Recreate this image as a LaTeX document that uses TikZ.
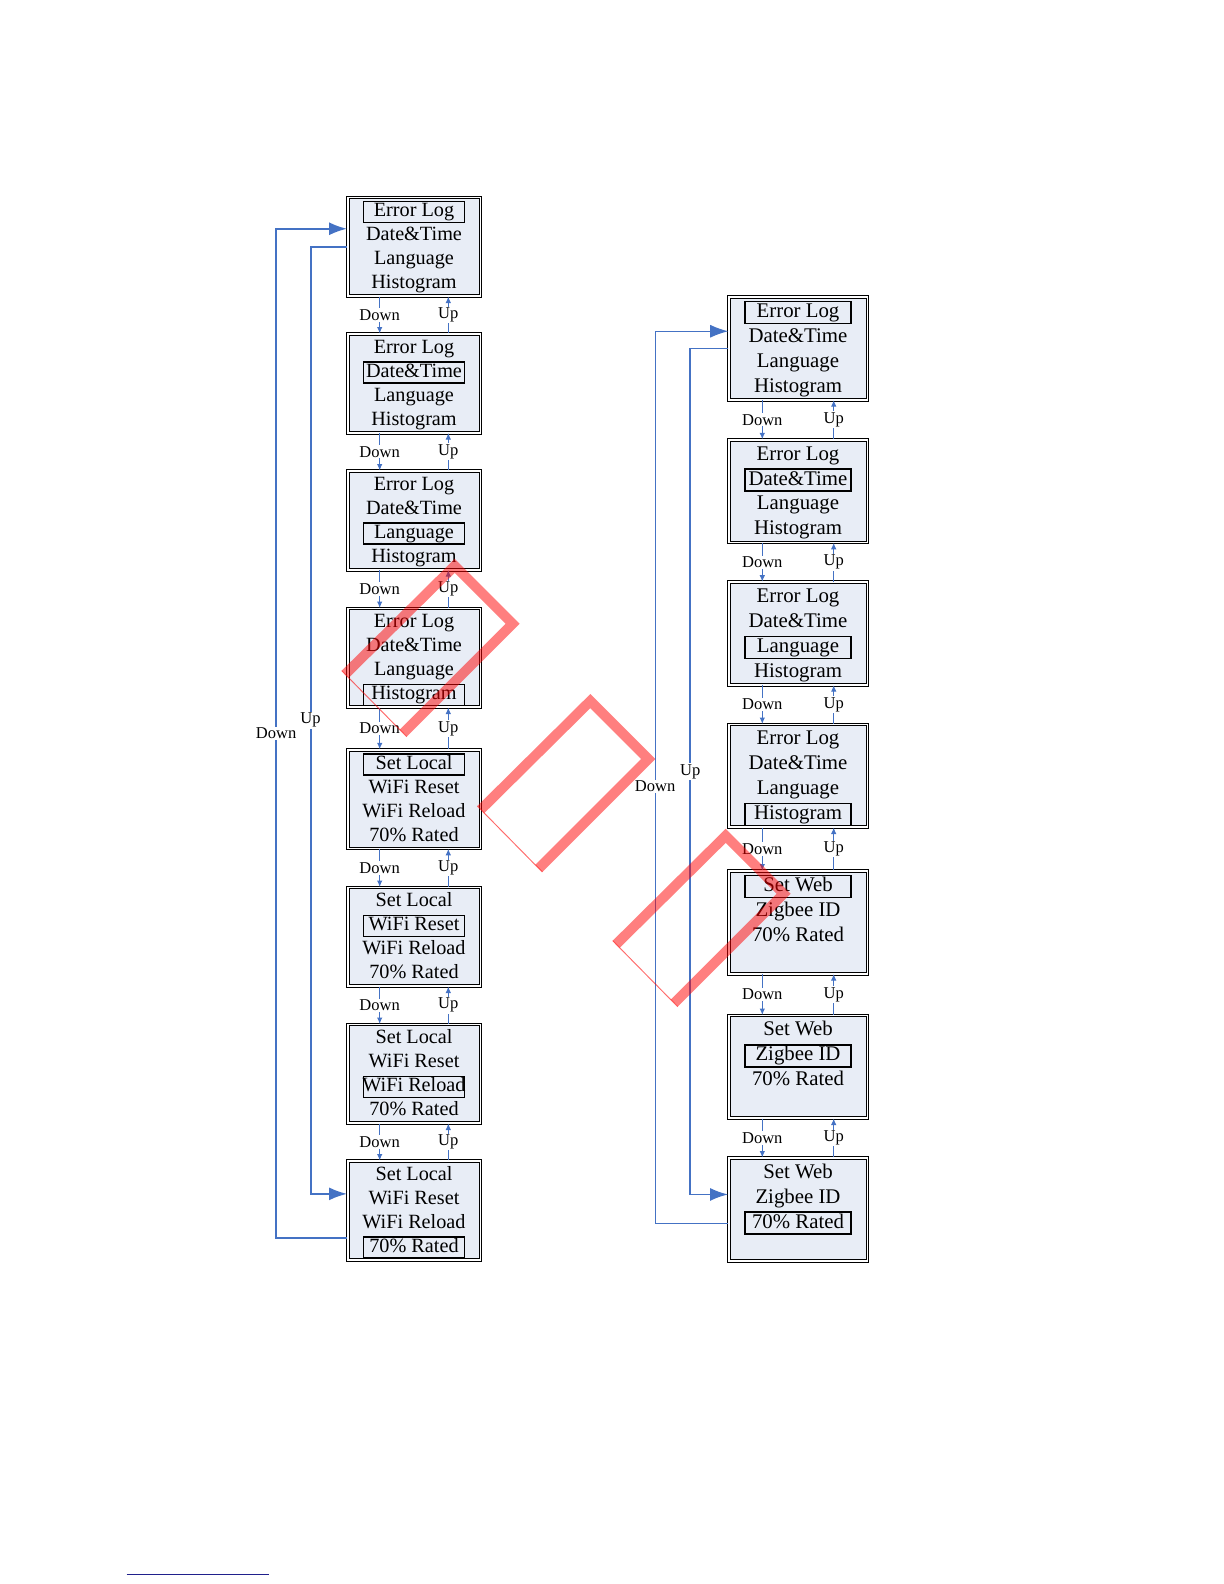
\documentclass[tikz,border=0pt]{standalone}
\usepackage{fontspec}
\setmainfont{Liberation Serif}
\usetikzlibrary{arrows.meta,calc}

\definecolor{panelfill}{RGB}{232,237,246}
\definecolor{navblue}{RGB}{68,114,196}
\definecolor{noteblue}{RGB}{32,32,140}

\tikzset{
  panel/.style={draw, line width=0.5bp, double=white, double distance=0.9bp, fill=panelfill, anchor=north, inner sep=0pt},
  L panel/.style={panel, minimum width=66.4bp, minimum height=49.35bp},
  R panel/.style={panel, minimum width=69.4bp, minimum height=51.35bp},
  L entry/.style={inner sep=0pt, text height=7bp, text depth=2.2bp, font=\fontsize{10.15}{12}\selectfont},
  R entry/.style={inner sep=0pt, text height=7.2bp, text depth=2.3bp, font=\fontsize{10.45}{12.5}\selectfont},
  L pick/.style={draw, line width=0.75bp, minimum width=50.5bp, minimum height=10.5bp},
  R pick/.style={draw, line width=0.75bp, minimum width=53bp, minimum height=11bp},
  navlabel/.style={fill=white, inner sep=0.6bp, font=\fontsize{8.3}{10}\selectfont},
  navline/.style={draw=navblue, line width=0.5bp, -{Latex[length=3.2bp,width=2.8bp]}},
  backline/.style={draw=navblue, -{Latex[length=9bp,width=6.5bp]}},
  stamp/.style={fill=red, fill opacity=0.5, even odd rule},
}

\newcommand{\menupanel}[8]{%
  \node[#2 panel] (#1) at (#3,#4) {};
  \foreach \txt [count=\k] in {#8}
    \node[#2 entry] (#1-\k) at ($(#1.north)+(0,{#5+#6*(\k-1)})$) {\txt};
  \node[#2 pick] (#1-frame) at (#1-#7) {};
}
\newcommand{\leftmenu}[4]{\menupanel{#1}{L}{414}{#2}{15.1}{24}{#3}{#4}}
\newcommand{\rightmenu}[4]{\menupanel{#1}{R}{798}{#2}{16.1}{24.8}{#3}{#4}}

\begin{document}
\begin{tikzpicture}[x=0.5bp, y=-0.5bp]
    \useasboundingbox (0,0) rectangle (1224,1584);

    \leftmenu{L1}{196.9}{1}{Error Log,Date\&Time,Language,Histogram}
    \leftmenu{L2}{333.4}{2}{Error Log,Date\&Time,Language,Histogram}
    \leftmenu{L3}{470.4}{3}{Error Log,Date\&Time,Language,Histogram}
    \leftmenu{L4}{607.9}{4}{Error Log,Date\&Time,Language,Histogram}
    \leftmenu{L5}{749.2}{1}{Set Local,WiFi Reset,WiFi Reload,70\% Rated}
    \leftmenu{L6}{886.9}{2}{Set Local,WiFi Reset,WiFi Reload,70\% Rated}
    \leftmenu{L7}{1023.9}{3}{Set Local,WiFi Reset,WiFi Reload,70\% Rated}
    \leftmenu{L8}{1160.4}{4}{Set Local,WiFi Reset,WiFi Reload,70\% Rated}

    \rightmenu{R1}{296.6}{1}{Error Log,Date\&Time,Language,Histogram}
    \rightmenu{R2}{439.2}{2}{Error Log,Date\&Time,Language,Histogram}
    \rightmenu{R3}{581.6}{3}{Error Log,Date\&Time,Language,Histogram}
    \rightmenu{R4}{723.9}{4}{Error Log,Date\&Time,Language,Histogram}
    \rightmenu{R5}{870.4}{1}{Set Web,Zigbee ID,70\% Rated}
    \rightmenu{R6}{1014.9}{2}{Set Web,Zigbee ID,70\% Rated}
    \rightmenu{R7}{1157.4}{3}{Set Web,Zigbee ID,70\% Rated}

    \foreach \a/\b in {L1/L2,L2/L3,L3/L4,L4/L5,L5/L6,L6/L7,L7/L8} {
        \draw[navline] ([xshift=-17.15bp]\a.south) -- node[navlabel] (\a-down) {Down} ([xshift=-17.15bp]\b.north);
        \draw[navline] ([xshift=17.15bp]\b.north) -- node[navlabel] (\a-up) {Up} ([xshift=17.15bp]\a.south);
    }
    \foreach \a/\b in {R1/R2,R2/R3,R3/R4,R4/R5,R5/R6,R6/R7} {
        \draw[navline] ([xshift=-17.85bp]\a.south) -- node[navlabel] (\a-down) {Down} ([xshift=-17.85bp]\b.north);
        \draw[navline] ([xshift=17.85bp]\b.north) -- node[navlabel] (\a-up) {Up} ([xshift=17.85bp]\a.south);
    }

    \draw[backline, line width=1bp] ([yshift=-14.1bp]L8.west) -- ++(-70.9,0) |- node[navlabel, pos=0.25] (L-down) {Down} ([yshift=9bp]L1.west);
    \draw[backline, line width=1bp] (L1.west) -- ++(-36.6,0) |- node[navlabel, pos=0.25] (L-up) {Up} ([yshift=8.2bp]L8.west);
    \draw[backline, line width=0.5bp] ([yshift=-7.3bp]R7.west) -- ++(-72.9,0) |- node[navlabel, pos=0.245] (R-down) {Down} ([yshift=8.6bp]R1.west);
    \draw[backline, line width=0.9bp] (R1.west) -- ++(-37.9,0) |- node[navlabel, pos=0.25] (R-up) {Up} ([yshift=7.4bp]R7.west);

    \draw[noteblue, line width=0.7bp] (126.7,1574.5) -- (269,1574.5);

    \foreach \x/\y [count=\n] in {341.7/670.7,477.3/806,612.7/940.7} {
        \coordinate (stamp\n) at (\x,\y);
        \fill[stamp] (stamp\n) -- ++(113,-112) -- ++(65,65) -- ++(-113,113) -- cycle
            ($(stamp\n)+(7.07,7.07)$) -- ($(stamp\n)+(113,-97.86)$) -- ($(stamp\n)+(163.86,-47)$) -- ($(stamp\n)+(57.93,58.93)$) -- cycle;
        \draw[red, draw opacity=0.5, line width=0.5bp] (stamp\n) -- ++(65,66);
    }
\end{tikzpicture}
\end{document}
